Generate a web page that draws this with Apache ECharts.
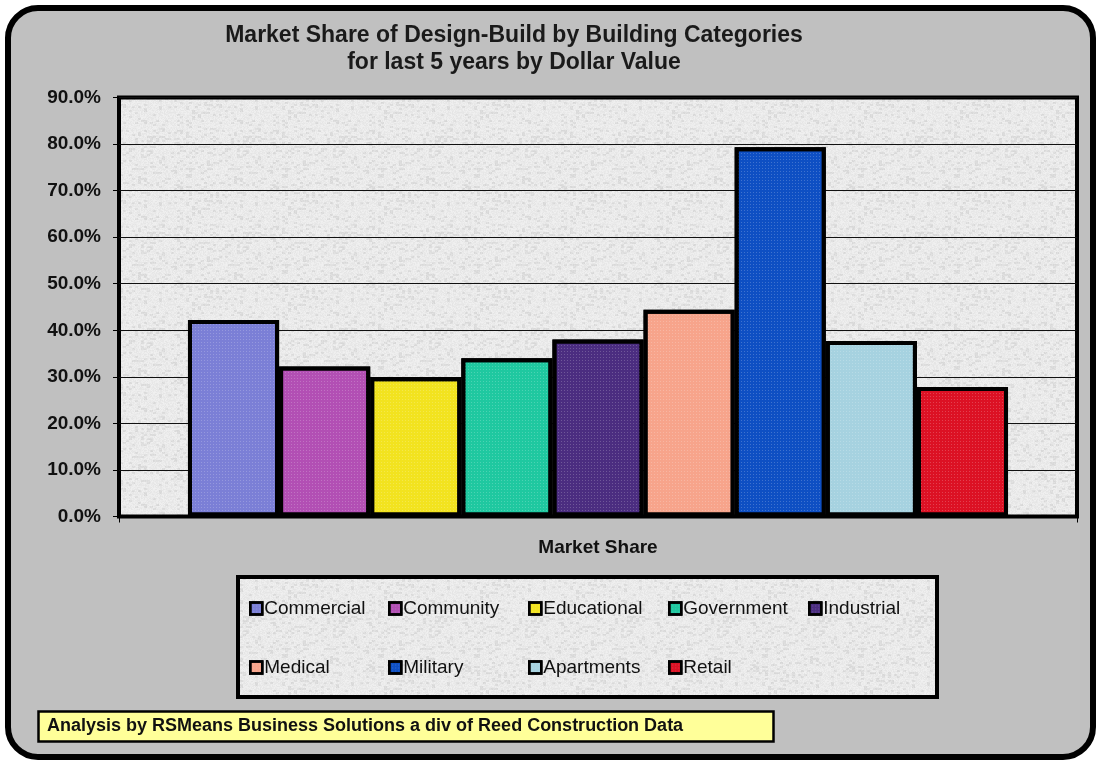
<!DOCTYPE html>
<html>
<head>
<meta charset="utf-8">
<script src="https://cdn.jsdelivr.net/npm/echarts@6/dist/echarts.min.js"></script>
<style>
html,body{margin:0;padding:0;background:#ffffff;}
#chart{width:1096px;height:761px;}
</style>
</head>
<body>
<div id="chart"></div>
<script>
// ---- data ----
const categories = ['Market Share'];
const seriesNames = ['Commercial','Community','Educational','Government','Industrial','Medical','Military','Apartments','Retail'];
const shareValues = [42.2, 32.2, 29.9, 34.0, 38.0, 44.4, 79.3, 37.7, 27.8];
const barColors = ['#7b7fd6','#b24fb4','#f2e31f','#1fc8a0','#4b2d80','#f7a48b','#0e4fc3','#a6d2e0','#dc1124'];
const titleLines = ['Market Share of Design-Build by Building Categories','for last 5 years by Dollar Value'];
const footnote = 'Analysis by RSMeans Business Solutions a div of Reed Construction Data';

const FONT = '"Liberation Sans", Arial, sans-serif';

// decorative paper texture (deterministic hash, purely visual)
function makeTexture(size) {
  const c = document.createElement('canvas');
  c.width = size; c.height = size;
  const ctx = c.getContext('2d');
  const img = ctx.createImageData(size, size);
  function h(x, y) {
    const v = Math.sin(x * 127.1 + y * 311.7) * 43758.5453;
    return v - Math.floor(v);
  }
  for (let y = 0; y < size; y++) {
    for (let x = 0; x < size; x++) {
      const n = h(x, y);
      const m = h(Math.floor(x / 3), Math.floor(y / 2) + 97);
      let g = 240 - Math.floor(n * 12);
      if (m > 0.82) g -= 14;
      const i = (y * size + x) * 4;
      img.data[i] = g; img.data[i + 1] = g; img.data[i + 2] = g; img.data[i + 3] = 255;
    }
  }
  ctx.putImageData(img, 0, 0);
  return {image: c, repeat: 'repeat'};
}
const paper = makeTexture(96);

const chart = echarts.init(document.getElementById('chart'), null, {renderer:'canvas'});

const series = seriesNames.map((name, i) => ({
  name: name,
  type: 'bar',
  data: [shareValues[i]],
  barGap: '0%',
  barCategoryGap: '14.4%',
  itemStyle: {
    color: barColors[i],
    borderColor: '#000000',
    borderWidth: 4,
    decal: {symbol:'rect', symbolSize:1, color:'rgba(255,255,255,0.2)', dashArrayX:[1,2], dashArrayY:[1,2], rotation:0}
  },
  emphasis: {disabled: true}
}));

// legend layout: two rows in fixed columns
const colX = [249, 388, 528, 668, 808];
const rowY = [598.5, 657.5];
const legends = seriesNames.map((name, i) => ({
  data: [name],
  left: colX[i % 5],
  top: rowY[Math.floor(i / 5)],
  padding: 0,
  itemWidth: 12,
  itemHeight: 12,
  icon: 'rect',
  itemStyle: {borderColor:'#000', borderWidth: 2.5},
  textStyle: {fontFamily: FONT, fontSize: 19, color:'#111', lineHeight: 20, padding:[0,0,0,-3]},
  selectedMode: false
}));

const option = {
  animation: false,
  aria: {enabled: true, decal: {show: true}},
  title: {
    text: titleLines.join('\n'),
    left: 514,
    top: 22,
    padding: 0,
    textAlign: 'center',
    textStyle: {fontFamily: FONT, fontSize: 23, fontWeight: 'bold', color: '#1a1a1a', lineHeight: 27}
  },
  legend: legends,
  grid: {
    left: 119, right: 19, top: 97.5, bottom: 244.5,
    show: true,
    backgroundColor: paper,
    borderColor: '#000000',
    borderWidth: 4
  },
  xAxis: {
    type: 'category',
    data: categories,
    axisLine: {lineStyle: {color: '#000', width: 3}},
    axisTick: {show: true, length: 6, lineStyle: {color:'#000', width: 1}},
    axisLabel: {fontFamily: FONT, fontSize: 19, fontWeight: 'bold', color: '#111', margin: 22}
  },
  yAxis: {
    type: 'value',
    min: 0, max: 90, interval: 10,
    axisLine: {show: false},
    axisTick: {show: true, length: 6, lineStyle: {color:'#000', width: 1}},
    splitLine: {show: true, lineStyle: {color: '#111', width: 1}},
    axisLabel: {
      fontFamily: FONT, fontSize: 19, fontWeight: 'bold', color: '#111', margin: 18,
      formatter: v => v.toFixed(1) + '%'
    }
  },
  graphic: [
    {type:'rect', z:-100, silent:true,
     shape:{x:8, y:8, width:1085, height:749, r:30},
     style:{fill:'#c0c0c0', stroke:'#000', lineWidth:6}},
    {type:'rect', z:-50, silent:true,
     shape:{x:238, y:577, width:699, height:120},
     style:{fill:paper, stroke:'#000', lineWidth:4}},
    {type:'rect', z:-50, silent:true,
     shape:{x:38.5, y:711.5, width:735, height:30},
     style:{fill:'#ffff99', stroke:'#000', lineWidth:2.5}},
    {type:'text', z:10, silent:true, left:47, top:717.5,
     style:{text: footnote, font: 'bold 18px ' + FONT, fill:'#111'}}
  ],
  series: series
};
chart.setOption(option);
</script>
</body>
</html>
